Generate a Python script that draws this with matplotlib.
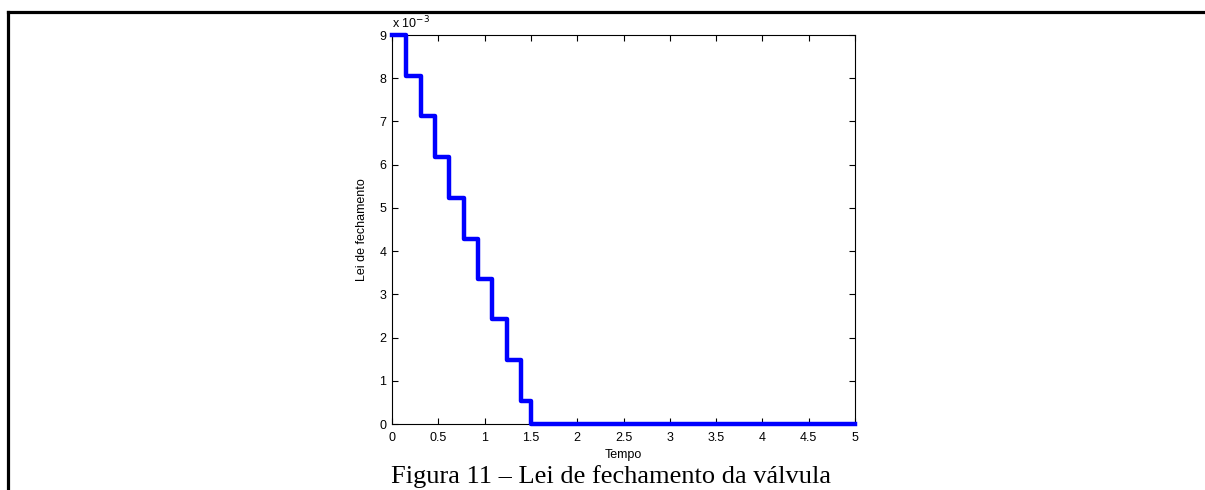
import numpy as np
import matplotlib.pyplot as plt
from matplotlib.lines import Line2D

# instants de fermeture (s) et loi de fermeture (x 1e-3)
tempo = [0, 0.155, 0.31, 0.465, 0.62, 0.775, 0.93, 1.085, 1.24, 1.395, 1.5, 5]
lei = [9.0, 8.05, 7.12, 6.17, 5.23, 4.28, 3.35, 2.42, 1.47, 0.53, 0.0, 0.0]

xticks = [0, 0.5, 1, 1.5, 2, 2.5, 3, 3.5, 4, 4.5, 5]
yticks = [0, 1, 2, 3, 4, 5, 6, 7, 8, 9]

plt.rcParams['font.family'] = ['Liberation Sans', 'DejaVu Sans']

fig = plt.figure(figsize=(12.05, 4.9), dpi=100)
W, H = 1205, 490
ax = fig.add_axes([392/W, 1-424/H, (855-392)/W, (424-35)/H])

ax.step(tempo, lei, where='post', color='#0000ff', lw=3.2, clip_on=False, zorder=3)

ax.set_xlim(0, 5)
ax.set_ylim(0, 9)
ax.set_xticks(xticks)
ax.set_xticklabels([('%g' % t) for t in xticks])
ax.set_yticks(yticks)
ax.tick_params(direction='in', top=True, right=True, labelsize=9, length=4, width=0.8)
ax.tick_params(axis='x', pad=6)
ax.tick_params(axis='y', pad=4)
for s in ax.spines.values():
    s.set_linewidth(0.8)
ax.set_xlabel('Tempo', fontsize=9, labelpad=3)
ax.set_ylabel('Lei de fechamento', fontsize=9, labelpad=8)
ax.text(0, 1.01, r'x 10$^{-3}$', transform=ax.transAxes, fontsize=9, va='bottom', ha='left')

# cadre du document
fig.add_artist(Line2D([8/W, 1], [1-12/H, 1-12/H], color='black', lw=2.3, transform=fig.transFigure))
fig.add_artist(Line2D([8/W, 8/W], [0, 1-12/H], color='black', lw=2.3, transform=fig.transFigure))

# legende de la figure
fig.text(611/W, 1-483/H, 'Figura 11 – Lei de fechamento da válvula', family=['Liberation Serif', 'DejaVu Serif'],
         fontsize=19, ha='center', va='baseline')

fig.savefig('out.png', dpi=100)
